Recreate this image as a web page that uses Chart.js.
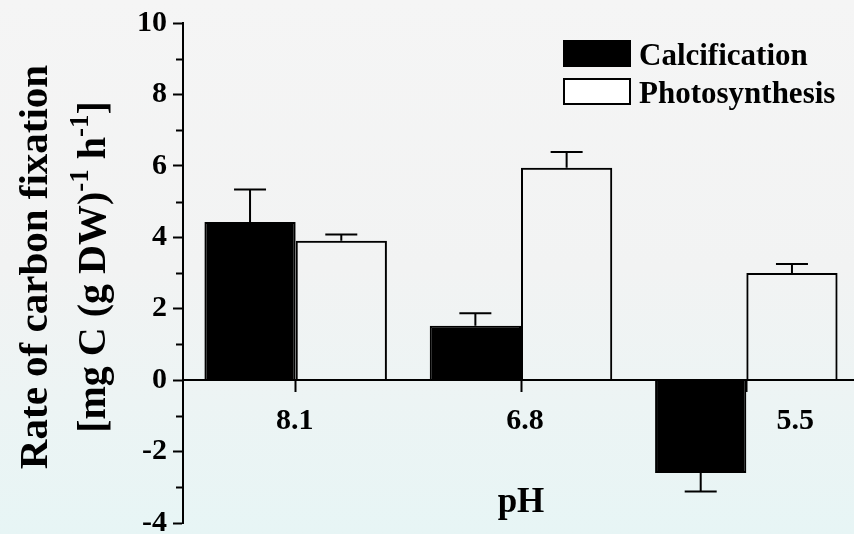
<!DOCTYPE html>
<html>
<head>
<meta charset="utf-8">
<script src="https://cdn.jsdelivr.net/npm/chart.js@4.4.1/dist/chart.umd.min.js"></script>
<style>
  html, body { margin: 0; padding: 0; overflow: hidden; }
  body {
    width: 854px; height: 534px;
    background: linear-gradient(to bottom, #f5f5f5 0%, #f2f3f3 50%, #e7f5f5 100%);
  }
  #wrap { width: 860px; height: 534px; }
</style>
</head>
<body>
<div id="wrap"><canvas id="chart"></canvas></div>
<script>
// ====== data ======
const categories = ['8.1', '6.8', '5.5'];
const calcification = [4.43, 1.52, -2.6];
const calcificationErr = [0.91, 0.35, 0.52];
const photosynthesis = [3.9, 5.95, 3.0];
const photosynthesisErr = [0.18, 0.44, 0.25];
const yTicks = [-4, -2, 0, 2, 4, 6, 8, 10];

// ====== styles ======
const FONT = '"Liberation Serif", "Times New Roman", serif';
const BLACK = '#000000';

// error bars (one-sided, away from zero)
const errorBarPlugin = {
  id: 'errorBars',
  afterDatasetsDraw(chart, args, opts) {
    const { ctx } = chart;
    const yScale = chart.scales.y;
    const errs = opts.errors || [];
    ctx.save();
    ctx.strokeStyle = BLACK;
    ctx.lineWidth = 2;
    chart.data.datasets.forEach((ds, di) => {
      const meta = chart.getDatasetMeta(di);
      meta.data.forEach((bar, i) => {
        const v = ds.data[i];
        const e = (errs[di] || [])[i] || 0;
        const y0 = yScale.getPixelForValue(v);
        const y1 = yScale.getPixelForValue(v >= 0 ? v + e : v - e);
        ctx.beginPath();
        ctx.moveTo(bar.x, y0);
        ctx.lineTo(bar.x, y1);
        ctx.moveTo(bar.x - 16, y1);
        ctx.lineTo(bar.x + 16, y1);
        ctx.stroke();
      });
    });
    ctx.restore();
  }
};

// minor ticks on the y axis (odd values, shorter)
const minorTickPlugin = {
  id: 'minorTicks',
  afterDraw(chart) {
    const { ctx } = chart;
    const y = chart.scales.y;
    const left = chart.chartArea.left;
    ctx.save();
    ctx.strokeStyle = BLACK;
    ctx.lineWidth = 2;
    y.ticks.forEach(t => {
      if (yTicks.includes(t.value)) return;
      const py = Math.round(y.getPixelForValue(t.value)) + 0.5;
      ctx.beginPath();
      ctx.moveTo(left - 7, py);
      ctx.lineTo(left, py);
      ctx.stroke();
    });
    ctx.restore();
  }
};

// category labels, axis titles, legend
const textPlugin = {
  id: 'texts',
  afterDraw(chart) {
    const { ctx, chartArea } = chart;
    const x = chart.scales.x;
    const shift = [-1, 4, 49];
    ctx.save();
    ctx.fillStyle = BLACK;

    // category labels under the zero line
    ctx.font = 'bold 30px ' + FONT;
    ctx.textAlign = 'center';
    ctx.textBaseline = 'alphabetic';
    categories.forEach((c, i) => {
      ctx.fillText(c, x.getPixelForValue(i) + shift[i], 429);
    });

    // x title
    ctx.font = 'bold 35px ' + FONT;
    ctx.fillText('pH', (chartArea.left + chartArea.right) / 2, 512);

    // y title, two lines, rotated
    const cy = 267;
    ctx.save();
    ctx.translate(47, cy);
    ctx.rotate(-Math.PI / 2);
    ctx.font = 'bold 41px ' + FONT;
    ctx.textAlign = 'center';
    ctx.fillText('Rate of carbon fixation', 0, 0);
    ctx.restore();

    const parts = [
      ['[mg C (g DW)', false], ['-1', true], [' h', false], ['-1', true], [']', false]
    ];
    const big = 'bold 40px ' + FONT, small = 'bold 27px ' + FONT;
    let total = 0;
    parts.forEach(p => { ctx.font = p[1] ? small : big; total += ctx.measureText(p[0]).width; });
    ctx.save();
    ctx.translate(105, cy);
    ctx.rotate(-Math.PI / 2);
    ctx.textAlign = 'left';
    let px = -total / 2;
    parts.forEach(p => {
      ctx.font = p[1] ? small : big;
      ctx.fillText(p[0], px, p[1] ? -17 : 0);
      px += ctx.measureText(p[0]).width;
    });
    ctx.restore();

    // legend
    ctx.textAlign = 'left';
    ctx.font = 'bold 31px ' + FONT;
    chart.data.datasets.forEach((ds, i) => {
      const top = 40 + i * 38;
      ctx.fillStyle = i === 0 ? BLACK : '#ffffff';
      ctx.fillRect(563, top, 68, 27);
      ctx.strokeStyle = BLACK;
      ctx.lineWidth = 2;
      ctx.strokeRect(564, top + 1, 66, 25);
      ctx.fillStyle = BLACK;
      ctx.fillText(ds.label, 639, top + 25);
    });
    ctx.restore();
  }
};

const ctx = document.getElementById('chart').getContext('2d');
new Chart(ctx, {
  type: 'bar',
  data: {
    labels: categories,
    datasets: [{
      label: 'Calcification',
      data: calcification,
      backgroundColor: BLACK,
      borderColor: BLACK,
      borderWidth: 2,
      borderSkipped: 'start',
      categoryPercentage: 0.81,
      barPercentage: 1
    }, {
      label: 'Photosynthesis',
      data: photosynthesis,
      backgroundColor: 'rgba(0,0,0,0)',
      borderColor: BLACK,
      borderWidth: 2,
      borderSkipped: 'start',
      categoryPercentage: 0.81,
      barPercentage: 1
    }]
  },
  options: {
    responsive: true,
    maintainAspectRatio: false,
    animation: false,
    layout: { padding: { top: 23, bottom: 11, left: 0, right: 1 } },
    scales: {
      x: {
        position: { y: 0 },
        offset: true,
        ticks: { display: false },
        grid: { offset: false, drawOnChartArea: false, tickLength: 11, tickWidth: 2, tickColor: BLACK },
        border: { color: BLACK, width: 2 }
      },
      y: {
        min: -4,
        max: 10,
        ticks: {
          stepSize: 1,
          autoSkip: false,
          padding: 6,
          color: BLACK,
          font: { family: FONT, size: 30, weight: 'bold' },
          callback: v => (yTicks.includes(v) ? String(v) : '')
        },
        grid: {
          drawOnChartArea: false,
          tickLength: 10,
          tickWidth: 2,
          tickColor: c => (yTicks.includes(c.tick.value) ? BLACK : 'rgba(0,0,0,0)')
        },
        border: { color: BLACK, width: 2 },
        afterFit: s => { s.width = 183; s.paddingTop = 0; s.paddingBottom = 0; }
      }
    },
    plugins: {
      legend: { display: false },
      tooltip: { enabled: false },
      errorBars: { errors: [calcificationErr, photosynthesisErr] }
    }
  },
  plugins: [errorBarPlugin, minorTickPlugin, textPlugin]
});
</script>
</body>
</html>
